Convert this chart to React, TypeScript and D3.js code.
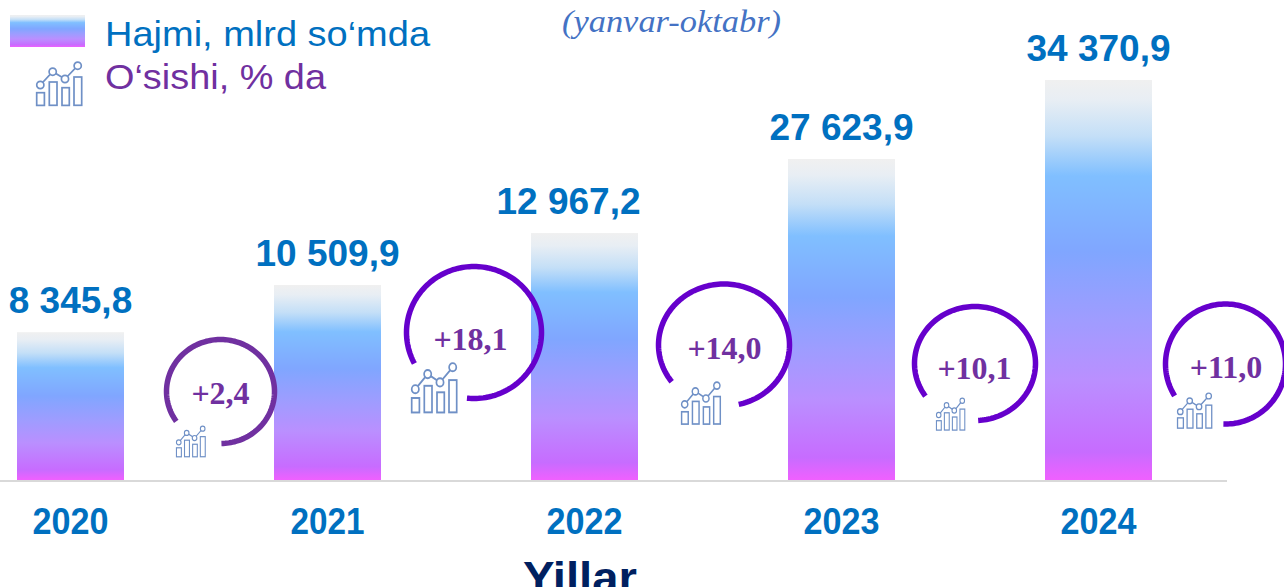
import React from "react";
import * as d3 from "d3";

// ---- data ----
const years = ["2020", "2021", "2022", "2023", "2024"];
const valueLabels = ["8 345,8", "10 509,9", "12 967,2", "27 623,9", "34 370,9"];
// Heights as drawn in the picture (the drawn bars are not proportional to their labels).
const drawnValues = [12700, 16755, 21220, 27582, 34371];
const growthLabels = ["+2,4", "+18,1", "+14,0", "+10,1", "+11,0"];
const legendLabels = ["Hajmi, mlrd so\u2018mda", "O\u2018sishi, % da"];
const subtitle = "(yanvar-oktabr)";
const axisTitle = "Yillar";

// ---- layout (not data) ----
const W = 1284, H = 587, BASE = 480;
const labelDx = [0, 0, -16, 0, 0];
const rings = [
  { cx: 220.5, cy: 391.5, rx: 54, ry: 52, a0: -125, a1: 180, color: "#7030A0", tx: 220.5, ty: 404, ix: 176, iy: 426, sx: 0.64, sy: 0.71 },
  { cx: 474, cy: 332.5, rx: 67.5, ry: 66, a0: -118, a1: 187, color: "#6600CC", tx: 470.5, ty: 350, ix: 411, iy: 363, sx: 1.0, sy: 1.14 },
  { cx: 724, cy: 345, rx: 65.5, ry: 61, a0: -127, a1: 168, color: "#6600CC", tx: 724.5, ty: 359, ix: 681, iy: 382, sx: 0.86, sy: 0.97 },
  { cx: 975, cy: 363.5, rx: 60.5, ry: 57, a0: -125, a1: 177, color: "#6600CC", tx: 974.5, ty: 379, ix: 936, iy: 398, sx: 0.63, sy: 0.74 },
  { cx: 1225.5, cy: 364, rx: 60, ry: 60, a0: -122, a1: 182, color: "#6600CC", tx: 1226, ty: 378, ix: 1177, iy: 393, sx: 0.76, sy: 0.81 },
];
const gradientStops: [number, string][] = [
  [0, "#f0f0f0"], [0.05, "#e8eef4"], [0.14, "#c4dff7"], [0.24, "#80bfff"],
  [0.43, "#80a6ff"], [0.6, "#9f9cff"], [0.75, "#ba8fff"], [0.93, "#c76cff"], [1, "#f060ff"],
];
const SANS = "'Liberation Sans', Arial, sans-serif";
const SERIF = "'Liberation Serif', 'Times New Roman', serif";

const x = d3.scaleBand<string>().domain(years).range([17, 1152]).paddingInner(150 / 257).paddingOuter(0);
const y = d3.scaleLinear().domain([0, 34371]).range([BASE, 80]);
const ringLine = d3.line<[number, number]>().x((d) => d[0]).y((d) => d[1]);

function ringPath(r: (typeof rings)[number]) {
  const angles = d3.range(r.a0, r.a1 + 0.5, 2);
  return ringLine(
    angles.map((a) => {
      const t = (a * Math.PI) / 180;
      return [r.cx + r.rx * Math.sin(t), r.cy - r.ry * Math.cos(t)] as [number, number];
    })
  )!;
}

const iconBars = [[0.7, 7.7, 30.7, 12.7], [13.3, 7.7, 20, 23.3], [26, 7.3, 25.7, 17.7], [38, 7.7, 15, 28.3]];
const iconPts: [number, number][] = [[4.3, 23], [16.7, 9.7], [29, 17], [41.7, 3.7]];

function Icon({ px, py, sx, sy }: { px: number; py: number; sx: number; sy: number }) {
  return (
    <g transform={`translate(${px},${py}) scale(${sx},${sy})`} fill="none" stroke="#6f90c6" strokeWidth={1.7}>
      {iconBars.map((b, i) => (
        <rect key={i} x={b[0]} y={b[2]} width={b[1]} height={b[3]} />
      ))}
      <path d={ringLine(iconPts)!} />
      {iconPts.map((p, i) => (
        <circle key={i} cx={p[0]} cy={p[1]} r={3.6} fill="#fff" />
      ))}
    </g>
  );
}

export default function App() {
  return (
    <svg
      width={W}
      height={H}
      viewBox={`0 0 ${W} ${H}`}
      style={{ position: "absolute", left: 0, top: 0, display: "block", background: "#fff" }}
    >
      <defs>
        <linearGradient id="barGrad" x1="0" y1="0" x2="0" y2="1">
          {gradientStops.map(([o, c]) => (
            <stop key={o} offset={o} stopColor={c} />
          ))}
        </linearGradient>
      </defs>

      {/* legend */}
      <rect x={10} y={15} width={75} height={32} fill="url(#barGrad)" />
      <text x={105} y={45.5} fontFamily={SANS} fontSize={35} fill="#0070C0" textLength={325} lengthAdjust="spacingAndGlyphs">
        {legendLabels[0]}
      </text>
      <Icon px={36} py={62} sx={1} sy={1} />
      <text x={105} y={88.5} fontFamily={SANS} fontSize={35} fill="#7030A0" textLength={221} lengthAdjust="spacingAndGlyphs">
        {legendLabels[1]}
      </text>

      <text x={562} y={32} fontFamily={SERIF} fontStyle="italic" fontSize={31} fill="#4472C4" textLength={219} lengthAdjust="spacingAndGlyphs">
        {subtitle}
      </text>

      {/* bars */}
      {years.map((yr, i) => (
        <rect key={yr} x={x(yr)} y={y(drawnValues[i])} width={x.bandwidth()} height={BASE - y(drawnValues[i])} fill="url(#barGrad)" />
      ))}

      {/* axis */}
      <line x1={0} x2={1227} y1={481} y2={481} stroke="#d9d9d9" strokeWidth={2} />

      {/* value labels */}
      {years.map((yr, i) => (
        <text
          key={yr}
          x={x(yr)! + x.bandwidth() / 2 + labelDx[i]}
          y={y(drawnValues[i]) - 19}
          textAnchor="middle"
          fontFamily={SANS}
          fontWeight="bold"
          fontSize={37}
          fill="#0070C0"
        >
          {valueLabels[i]}
        </text>
      ))}

      {/* year labels */}
      {years.map((yr) => (
        <text
          key={yr}
          x={x(yr)! + x.bandwidth() / 2}
          y={534}
          textAnchor="middle"
          fontFamily={SANS}
          fontWeight="bold"
          fontSize={36}
          fill="#0070C0"
          textLength={yr === "2021" ? 74 : 76}
          lengthAdjust="spacingAndGlyphs"
        >
          {yr}
        </text>
      ))}

      <text x={580} y={593} textAnchor="middle" fontFamily={SANS} fontWeight="bold" fontSize={44} fill="#002060" textLength={114} lengthAdjust="spacingAndGlyphs">
        {axisTitle}
      </text>

      {/* growth rings */}
      {rings.map((r, i) => (
        <g key={i}>
          <path d={ringPath(r)} fill="none" stroke={r.color} strokeWidth={5.5} />
          <text x={r.tx} y={r.ty} textAnchor="middle" fontFamily={SERIF} fontWeight="bold" fontSize={32} fill="#7030A0">
            {growthLabels[i]}
          </text>
          <Icon px={r.ix} py={r.iy} sx={r.sx} sy={r.sy} />
        </g>
      ))}
    </svg>
  );
}
